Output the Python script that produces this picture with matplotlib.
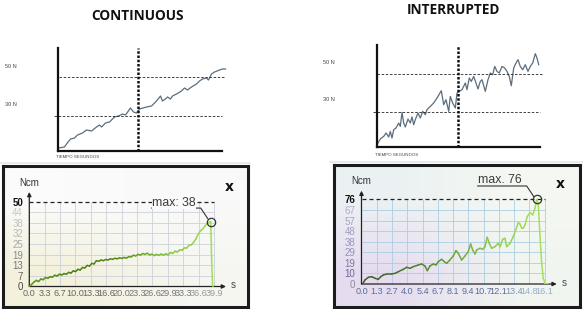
import numpy as np
import matplotlib
matplotlib.use("Agg")
import matplotlib.pyplot as plt
from matplotlib.collections import LineCollection
from matplotlib.colors import LinearSegmentedColormap, to_rgb
from matplotlib.transforms import IdentityTransform

# ---- top sketches (local units: time / force) ----
cont_sketch_t = [1, 7, 9, 13, 17, 20, 25, 29, 34, 39, 42, 44, 48, 52, 57, 61, 65, 68, 73, 76,
                 79, 82, 89, 94, 99, 103, 105, 108, 110, 113, 115, 119, 124, 127, 130, 134,
                 139, 142, 145, 149, 151, 154, 157, 162, 165, 168]
cont_sketch_f = [3, 4, 7, 12, 13, 16, 18, 21, 20, 24, 26, 24, 28, 29, 34, 35, 37, 36, 43, 39,
                 38, 42, 44, 45, 50, 55, 50, 52, 54, 52, 55, 57, 60, 63, 61, 64, 67, 70, 72, 73,
                 71, 77, 79, 81, 82, 82]

intr_sketch_t = [1, 3.3, 6.7, 9, 11.7, 13.3, 15, 16.7, 19, 21.7, 23.3, 25, 26.7, 28.3, 31, 33.3,
                 35, 36.7, 38.3, 41, 43.3, 45.7, 48.3, 50, 53.3, 56.7, 60, 64.3, 66.7, 69, 71.7,
                 73.3, 75.7, 78.3, 80, 82.3, 85, 88.3, 90, 92.3, 94.3, 96.7, 99, 101, 103.3, 105,
                 108.3, 111, 113.3, 115.7, 117.7, 120, 122.3, 125, 127.7, 130, 132.3, 134.3,
                 136.7, 139, 141, 143.3, 145.7, 148.3, 151, 153.3, 155.7, 158.3, 160, 161.7]
intr_sketch_f = [4, 8, 10.6, 14, 10, 15.6, 9, 17.3, 19, 24, 20.6, 34.6, 24, 20, 28, 24, 30, 22.3,
                 27.3, 34, 29, 35.6, 32.3, 37.3, 40.6, 44, 49, 56.3, 42.3, 47.3, 35.6, 50.6, 44,
                 39, 54, 55.6, 57.3, 64, 57.3, 69, 65.6, 70.6, 64, 58, 65.6, 67.3, 55.6, 67.3, 74,
                 72.3, 80.6, 75.6, 74, 80.6, 79, 75.6, 70.6, 61.3, 79, 84, 87.3, 80.6, 77.3, 82.3,
                 75.6, 80.6, 84, 93.3, 89, 82.3]

# ---- torque screens (s, Ncm) ----
cont_t = [0, 0.5, 1.0, 1.5, 2.0, 2.5, 3.0, 3.5, 4.0, 4.5, 5.0, 5.5, 6.0, 6.5, 7.0, 7.5, 8.0,
          8.5, 9.0, 9.5, 10, 10.5, 11, 11.5, 12, 12.5, 13, 13.5, 14, 14.5, 15, 15.5, 16, 16.5,
          17, 17.5, 18, 18.5, 19, 19.5, 20, 20.5, 21, 21.5, 22, 22.5, 23, 23.5, 24, 24.5, 25,
          25.5, 26, 26.5, 27, 27.5, 28, 28.5, 29, 29.5, 30, 30.5, 31, 31.5, 32, 32.5, 33, 33.5,
          34, 34.5, 35, 35.5, 36, 36.5, 37, 37.5, 38, 38.5, 39, 39.2, 39.4, 39.6, 39.7]
cont_v = [0, 1.2, 2.6, 3.6, 2.9, 4.4, 4.0, 5.3, 4.8, 5.8, 5.5, 6.6, 6.2, 7.2, 6.8, 7.6, 7.2,
          8.3, 7.9, 9.2, 8.8, 10.1, 9.7, 11.2, 10.9, 12.4, 12.0, 13.6, 13.3, 15.2, 14.8, 15.6,
          15.2, 15.9, 15.6, 16.3, 16.0, 16.6, 16.3, 16.9, 16.5, 17.1, 16.7, 17.6, 17.4, 18.4,
          18.0, 18.9, 18.5, 19.4, 18.9, 19.6, 18.6, 19.0, 18.2, 18.9, 18.3, 19.1, 18.4, 19.3,
          18.6, 20.0, 19.5, 20.8, 20.3, 21.6, 21.3, 22.7, 22.6, 24.2, 24.5, 26.0, 28.0, 30.8,
          32.8, 34.0, 35.8, 37.2, 37.9, 38.2, 15.0, 0.6, 0]

intr_t = [0.1, 0.3, 0.6, 0.9, 1.19, 1.48, 1.69, 1.92, 2.22, 2.66, 2.95, 3.24, 3.68, 3.97, 4.27,
          4.56, 5.0, 5.29, 5.58, 5.79, 6.02, 6.32, 6.55, 6.75, 7.05, 7.28, 7.49, 7.78, 8.07,
          8.31, 8.51, 8.81, 9.1, 9.39, 9.6, 9.78, 9.98, 10.13, 10.42, 10.66, 10.86, 11.06,
          11.24, 11.45, 11.74, 12.03, 12.18, 12.42, 12.62, 12.77, 13.06, 13.35, 13.56, 13.79,
          13.94, 14.09, 14.23, 14.38, 14.58, 14.82, 15.06, 15.26, 15.41, 15.55, 15.7, 15.85,
          15.99, 16.14, 16.43]
intr_v = [0, 3.6, 6.0, 6.6, 5.1, 4.2, 6.6, 8.1, 9.0, 9.0, 9.6, 11.1, 13.2, 15.0, 14.1, 15.6,
          17.1, 18.0, 16.2, 12.0, 16.2, 18.0, 17.1, 20.1, 22.2, 20.1, 18.6, 21.6, 25.2, 30.0,
          27.6, 21.6, 25.2, 29.1, 36.0, 30.6, 27.0, 30.6, 32.1, 31.2, 33.6, 42.0, 36.6, 32.1,
          33.6, 36.6, 33.6, 40.2, 41.1, 33.6, 36.6, 42.6, 48.6, 55.2, 54.0, 50.1, 50.1, 53.1,
          60.6, 64.2, 62.1, 68.1, 76.0, 72.0, 42.6, 18.6, 5.1, 0.6, 0]

cont_xlabels = ["0.0", "3.3", "6.7", "10.0", "13.3", "16.6", "20.0", "23.3", "26.6", "29.9",
                "33.3", "36.6", "39.9"]
cont_ylabels = ["0", "7", "13", "19", "25", "32", "38", "44", "50"]
intr_xlabels = ["0.0", "1.3", "2.7", "4.0", "5.4", "6.7", "8.1", "9.4", "10.7", "12.1", "13.4",
                "14.8", "16.1"]
intr_ylabels = ["0", "10", "19", "29", "38", "48", "57", "67", "76"]

plt.rcParams["font.family"] = ["Liberation Sans", "DejaVu Sans"]

W, H = 583, 309
fig = plt.figure(figsize=(W / 100, H / 100), dpi=100)
fig.patch.set_facecolor("white")


def box(x0, y0, x1, y1):
    # pixel box (top-left origin) -> figure fraction
    return [x0 / W, 1 - y1 / H, (x1 - x0) / W, (y1 - y0) / H]


def ftext(x, y, s, **kw):
    fig.text(x / W, 1 - y / H, s, **kw)


def sketch(rect, t, f, xmax, ymax, t_split, hi, hi_span, lo, lo_span):
    ax = fig.add_axes(box(*rect))
    ax.set_xlim(0, xmax)
    ax.set_ylim(0, ymax)
    ax.patch.set_visible(False)
    ax.set_xticks([])
    ax.set_yticks([])
    for s in ("top", "right"):
        ax.spines[s].set_visible(False)
    for s in ("left", "bottom"):
        ax.spines[s].set_linewidth(1.6)
        ax.spines[s].set_color("#111111")
    ax.plot(t, f, color="#5b6d7d", lw=0.9, clip_on=False, solid_joinstyle="round")
    ax.hlines(hi, *hi_span, colors="#222222", lw=0.6, linestyles=(0, (3, 2)), clip_on=False)
    ax.hlines(lo, *lo_span, colors="#222222", lw=0.6, linestyles=(0, (3, 2)), clip_on=False)
    ax.axvline(t_split, color="#111111", lw=1.8, ls=(0, (1, 0.7)))
    return ax


def screen(frame_rect, plot_rect, corners, t, v, xmax, ymax, xlabels, x_end, ylabels, y_end,
           ycolors, xcolors, grid_color, colors, max_text, text_bg):
    fr = fig.add_axes(box(*frame_rect))
    img = np.array([[to_rgb(corners[0]), to_rgb(corners[1])],
                    [to_rgb(corners[2]), to_rgb(corners[3])]])
    fr.imshow(img, extent=(0, 1, 0, 1), interpolation="bilinear", aspect="auto")
    fr.set_xlim(0, 1)
    fr.set_ylim(0, 1)
    fr.set_xticks([])
    fr.set_yticks([])
    for s in fr.spines.values():
        s.set_linewidth(2.2)
        s.set_color("#1c1c1c")

    ax = fig.add_axes(box(*plot_rect))
    ax.patch.set_visible(False)
    for s in ax.spines.values():
        s.set_visible(False)
    ax.set_xlim(0, xmax)
    ax.set_ylim(0, ymax)
    xpos = np.linspace(0, x_end, len(xlabels))
    ypos = np.linspace(0, y_end, len(ylabels))
    ax.vlines(xpos[1:], 0, y_end, colors=grid_color, lw=0.55, zorder=1)
    ax.hlines(ypos[1:-1], 0, x_end, colors=grid_color, lw=0.55, zorder=1)
    ax.hlines(y_end, 0, x_end, colors="#222222", lw=0.9, linestyles=(0, (3.2, 2.4)), zorder=2)
    arrow = dict(arrowstyle="-|>", color="#222222", lw=0.9, mutation_scale=6,
                 shrinkA=0, shrinkB=0)
    ax.annotate("", xy=(0, 1), xytext=(0, 0), xycoords="axes fraction", arrowprops=arrow)
    ax.annotate("", xy=(1, 0), xytext=(0, 0), xycoords="axes fraction", arrowprops=arrow)

    ax.set_xticks(xpos, xlabels)
    ax.set_yticks(ypos, ylabels)
    ax.tick_params(axis="x", length=0, labelsize=6.6, pad=2)
    ax.tick_params(axis="y", length=0, labelsize=7, pad=4.5)
    for lbl, c in zip(ax.get_yticklabels(), ycolors):
        lbl.set_color(c)
    ax.get_yticklabels()[-1].set_fontweight("bold")
    for lbl, c in zip(ax.get_xticklabels(), xcolors):
        lbl.set_color(c)

    pts = np.column_stack([t, v])
    segs = np.stack([pts[:-1], pts[1:]], axis=1)
    cmap = LinearSegmentedColormap.from_list("trace", colors)
    lc = LineCollection(segs, cmap=cmap, norm=plt.Normalize(0, max(t)), lw=1.1, zorder=3,
                        capstyle="round", joinstyle="round")
    lc.set_array((np.asarray(t)[:-1] + np.asarray(t)[1:]) / 2)
    ax.add_collection(lc)

    i = int(np.argmax(v))
    ax.plot(t[i], v[i], "o", ms=6, mfc="none", mec="#333333", mew=0.9, zorder=4,
            clip_on=False)
    px, py = ax.transData.transform((t[i], v[i]))
    fig.add_artist(plt.Line2D([px - 59, px - 10, px - 3], [py + 13.5, py + 13.5, py + 3],
                              transform=IdentityTransform(), color="#333333", lw=0.8))
    kw = dict(transform=IdentityTransform(), ha="center", va="center", fontsize=8.8,
              color="#3a3a3a")
    if text_bg:
        kw["bbox"] = dict(facecolor=text_bg, edgecolor="none", pad=0.3)
    fig.text(px - 37, py + 19, max_text, **kw)
    return ax


# ---- titles ----
ftext(137.5, 15.5, "CONTINUOUS", ha="center", va="center", fontsize=9.8,
      fontweight="bold", family=["Open Sans", "DejaVu Sans"], color="#111111")
ftext(453, 10.5, "INTERRUPTED", ha="center", va="center", fontsize=9.8,
      fontweight="bold", family=["Open Sans", "DejaVu Sans"], color="#111111")

# ---- sketches ----
sketch((57.5, 48, 222, 151), cont_sketch_t, cont_sketch_f, 164.5, 103,
       80.5, 74.5, (1, 167.5), 35.5, (-3.5, 164))
sketch((377, 45, 540, 147), intr_sketch_t, intr_sketch_f, 163, 102,
       81, 73, (0, 166), 35, (-4, 163))

for x, y, s in [(10.5, 66, "50 N"), (10.5, 104, "30 N"), (329, 62, "50 N"), (329, 100, "30 N")]:
    ftext(x, y, s, ha="center", va="center", fontsize=4, color="#444444")
ftext(56, 157.5, "TIEMPO SEGUNDOS", ha="left", va="center", fontsize=3.2, color="#444444")
ftext(375, 155.5, "TIEMPO SEGUNDOS", ha="left", va="center", fontsize=3.2, color="#444444")

# faint scan edges above the two screens
fig.add_artist(plt.Line2D([0, 250 / W], [1 - 163 / H] * 2, color="#e4e8ec", lw=1.2))
fig.add_artist(plt.Line2D([330 / W, 1], [1 - 162 / H] * 2, color="#e4e8ec", lw=1.2))

# ---- screens ----
cont_ycol = ["#444444", "#666666", "#777777", "#888888", "#a8a8a8", "#b8b8b8", "#c0c0c0",
             "#c8c8c8", "#111111"]
cont_xcol = ["#666666"] * 6 + ["#777777"] * 5 + ["#999999"] * 2
screen((3, 166, 248, 307), (29.3, 192, 226, 286.5),
       ["#fbfbfb", "#f9f9f9", "#f3f1dc", "#f6f6f1"],
       cont_t, cont_v, 42.5, 55.6, cont_xlabels, 39.9, cont_ylabels, 50,
       cont_ycol, cont_xcol, "#c9ced8",
       ["#5f9a22", "#4d7d14", "#5c8e1c", "#86c440", "#a2de5e"], "max: 38", "#fafafa")

intr_ycol = ["#8a8aa0", "#6e6890", "#7e78a4", "#9890b8", "#9c94bc", "#a49cc2", "#aaa2c8",
             "#b2aacc", "#111111"]
intr_xcol = ["#5a6e98"] * 10 + ["#7f95b8", "#9ab0cc", "#9ab0cc"]
screen((334, 165, 580, 307), (361.5, 190.7, 556.7, 284),
       ["#ebf1f3", "#f5f8f2", "#e6dcf0", "#f0f5f0"],
       intr_t, intr_v, 17.17, 83.9, intr_xlabels, 16.1, intr_ylabels, 76,
       intr_ycol, intr_xcol, "#a6cbe0",
       ["#405a28", "#4c782c", "#6ea63a", "#98d24e", "#aae262"], "max. 76", None)

for x, y in [(29, 183), (361.5, 181.5)]:
    ftext(x, y, "Ncm", ha="center", va="center", fontsize=7, color="#333333")
for x, y in [(229, 187), (560.7, 184)]:
    ftext(x, y, "x", ha="center", va="center", fontsize=10, fontweight="bold",
          family="DejaVu Sans", color="#111111")
for x, y in [(233, 285.5), (564, 283.5)]:
    ftext(x, y, "s", ha="center", va="center", fontsize=7, color="#444444")

fig.savefig("out.png", dpi=100)
